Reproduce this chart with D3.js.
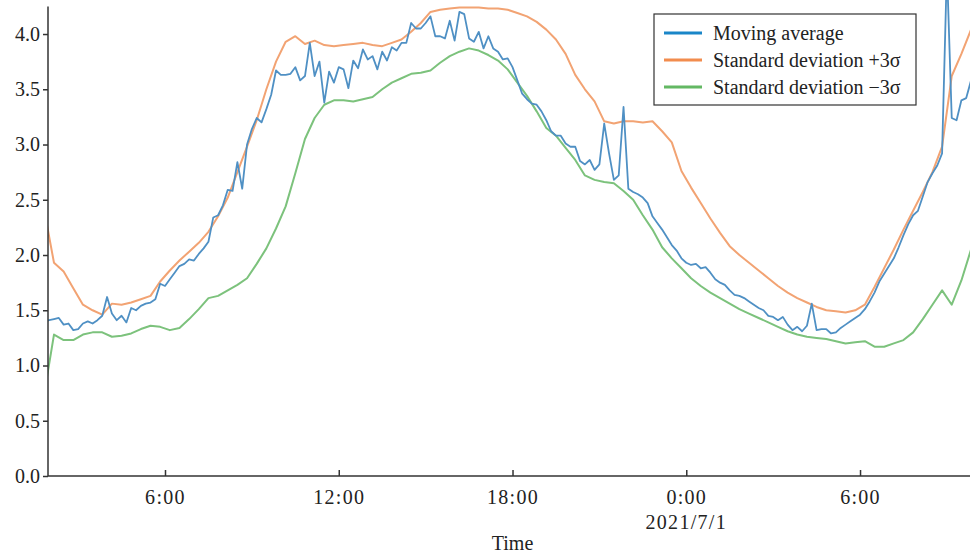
<!DOCTYPE html>
<html>
<head>
<meta charset="utf-8">
<script src="https://cdn.jsdelivr.net/npm/d3@7"></script>
<style>
  html, body { margin: 0; padding: 0; background: #fff; }
  svg { display: block; font-family: "Liberation Serif", "DejaVu Serif", serif; }
  .axis path, .axis line { stroke: #333; stroke-width: 1.5; }
  .axis text { fill: #222; font-size: 20px; font-family: "Liberation Serif", serif; }
  .xaxis text, .xlab { letter-spacing: 1.3px; }
</style>
</head>
<body>
<div id="chart"></div>
<script>
// moving average, one value every 10 minutes from 2021/6/30 1:50
const avgStart = new Date(2021, 5, 30, 1, 50);
const movingAvg = [
  1.40,1.41,1.42,1.43,1.37,1.38,1.32,1.33,1.38,1.40,
  1.38,1.41,1.45,1.62,1.47,1.41,1.45,1.39,1.52,1.50,
  1.54,1.56,1.57,1.60,1.74,1.72,1.78,1.84,1.90,1.92,
  1.96,1.95,2.01,2.06,2.12,2.34,2.36,2.45,2.59,2.58,
  2.84,2.60,3.00,3.14,3.24,3.20,3.32,3.45,3.67,3.63,
  3.63,3.64,3.70,3.58,3.62,3.92,3.62,3.75,3.38,3.66,
  3.56,3.70,3.68,3.51,3.76,3.69,3.86,3.77,3.80,3.68,
  3.84,3.76,3.88,3.85,3.92,3.92,4.10,4.05,4.05,4.10,
  4.16,3.98,3.98,3.96,4.12,3.94,4.20,4.18,3.96,3.93,
  4.02,3.87,3.98,3.87,3.84,3.77,3.78,3.70,3.58,3.46,
  3.41,3.37,3.36,3.30,3.22,3.12,3.08,3.08,3.01,2.98,
  2.98,2.85,2.82,2.86,2.77,2.82,3.19,2.92,2.68,2.72,
  3.34,2.60,2.57,2.55,2.52,2.47,2.35,2.29,2.23,2.16,
  2.09,2.04,1.97,1.93,1.91,1.92,1.88,1.89,1.84,1.78,
  1.75,1.73,1.68,1.64,1.63,1.61,1.58,1.55,1.52,1.50,
  1.45,1.44,1.41,1.44,1.37,1.32,1.35,1.31,1.36,1.56,
  1.32,1.33,1.33,1.29,1.30,1.34,1.37,1.40,1.43,1.46,
  1.51,1.58,1.66,1.76,1.83,1.90,1.97,2.07,2.18,2.28,
  2.36,2.40,2.53,2.66,2.74,2.81,2.92,4.60,3.24,3.22,
  3.40,3.42,3.58,3.65
];

// +3σ / -3σ bands, one value every 20 minutes from the same start
const bandStart = new Date(2021, 5, 30, 1, 50);
const upper3s = [
  2.40,1.93,1.85,1.70,1.55,1.50,1.46,1.56,1.55,1.57,
  1.60,1.63,1.76,1.86,1.95,2.03,2.11,2.21,2.35,2.52,
  2.75,2.98,3.22,3.50,3.75,3.93,3.98,3.91,3.94,3.90,
  3.89,3.90,3.91,3.92,3.90,3.89,3.92,3.95,4.02,4.10,
  4.20,4.22,4.23,4.24,4.24,4.24,4.23,4.23,4.22,4.19,
  4.16,4.11,4.04,3.95,3.82,3.63,3.50,3.39,3.21,3.19,
  3.21,3.21,3.20,3.21,3.12,3.02,2.76,2.61,2.47,2.33,
  2.20,2.08,2.00,1.93,1.86,1.79,1.72,1.66,1.61,1.57,
  1.53,1.50,1.49,1.48,1.50,1.55,1.71,1.88,2.05,2.23,
  2.40,2.57,2.75,2.98,3.62,3.82,4.04,4.20
];
const lower3s = [
  0.75,1.28,1.23,1.23,1.28,1.30,1.30,1.26,1.27,1.29,
  1.33,1.36,1.35,1.32,1.34,1.42,1.51,1.61,1.63,1.68,
  1.73,1.79,1.92,2.06,2.24,2.44,2.74,3.05,3.24,3.36,
  3.40,3.40,3.39,3.41,3.43,3.50,3.56,3.60,3.64,3.65,
  3.67,3.74,3.80,3.84,3.87,3.85,3.81,3.76,3.68,3.56,
  3.44,3.30,3.15,3.08,2.97,2.86,2.72,2.68,2.66,2.65,
  2.58,2.50,2.36,2.23,2.07,1.97,1.88,1.79,1.72,1.66,
  1.61,1.56,1.51,1.47,1.43,1.39,1.35,1.31,1.28,1.26,
  1.25,1.24,1.22,1.20,1.21,1.22,1.17,1.17,1.20,1.23,
  1.30,1.42,1.55,1.68,1.55,1.77,2.05,2.25
];

const yTicks = [0, 0.5, 1.0, 1.5, 2.0, 2.5, 3.0, 3.5, 4.0];
const xTicks = [
  new Date(2021, 5, 30, 6), new Date(2021, 5, 30, 12), new Date(2021, 5, 30, 18),
  new Date(2021, 6, 1, 0), new Date(2021, 6, 1, 6)
];
const seriesNames = ["Moving average", "Standard deviation +3σ", "Standard deviation −3σ"];
const lineColors = ["#4f90c4", "#f2a373", "#7cc27c"];
const legendColors = ["#1a86c8", "#f28c4e", "#63b863"];

const W = 970, H = 556;
const plotL = 48, plotR = 970, plotT = 6.4, plotB = 476;

const svg = d3.select("#chart").append("svg")
  .attr("width", W).attr("height", H);

const x = d3.scaleTime()
  .domain([new Date(2021, 5, 30, 1, 57, 36), new Date(2021, 6, 1, 9, 47, 50)])
  .range([plotL, plotR]);
const y = d3.scaleLinear().domain([0, 4.25]).range([plotB, plotT]);

svg.append("defs").append("clipPath").attr("id", "plot")
  .append("rect").attr("x", plotL).attr("y", 0)
  .attr("width", plotR - plotL).attr("height", plotB);

const avgData = movingAvg.map((v, i) => ({ t: d3.timeMinute.offset(avgStart, 10 * i), v }));
const upData = upper3s.map((v, i) => ({ t: d3.timeMinute.offset(bandStart, 20 * i), v }));
const loData = lower3s.map((v, i) => ({ t: d3.timeMinute.offset(bandStart, 20 * i), v }));

const line = d3.line().x(d => x(d.t)).y(d => y(d.v));

const g = svg.append("g").attr("clip-path", "url(#plot)");
[[loData, 2, 2], [upData, 1, 2], [avgData, 0, 1.8]].forEach(([data, k, w]) => {
  g.append("path").datum(data)
    .attr("fill", "none")
    .attr("stroke", lineColors[k])
    .attr("stroke-width", w)
    .attr("stroke-linejoin", "round")
    .attr("d", line);
});

// axes
svg.append("g").attr("class", "axis")
  .attr("transform", `translate(${plotL},0)`)
  .call(d3.axisLeft(y).tickValues(yTicks).tickFormat(d3.format(".1f")).tickSize(5).tickPadding(3))
  .call(a => a.select(".domain").attr("d", `M0,${plotT}V${plotB}`));

svg.append("g").attr("class", "axis xaxis")
  .attr("transform", `translate(0,${plotB})`)
  .call(d3.axisBottom(x).tickValues(xTicks).tickFormat(d3.timeFormat("%-H:%M")).tickSize(-6).tickPadding(14))
  .call(a => a.select(".domain").attr("d", `M${plotL},0H${plotR}`));

svg.append("text").attr("class", "xlab")
  .attr("x", x(xTicks[3])).attr("y", 529)
  .attr("text-anchor", "middle").attr("font-size", 20).attr("fill", "#222")
  .text("2021/7/1");

svg.append("text")
  .attr("x", x(xTicks[2])).attr("y", 550)
  .attr("text-anchor", "middle").attr("font-size", 20).attr("fill", "#222")
  .text("Time");

// legend
const lg = svg.append("g").attr("transform", "translate(654,14)");
lg.append("rect").attr("width", 262).attr("height", 91)
  .attr("fill", "#fff").attr("stroke", "#333").attr("stroke-width", 1.2);
seriesNames.forEach((name, k) => {
  const yy = 19 + k * 27;
  lg.append("line").attr("x1", 10).attr("x2", 48).attr("y1", yy).attr("y2", yy)
    .attr("stroke", legendColors[k]).attr("stroke-width", 3);
  lg.append("text").attr("x", 59).attr("y", yy + 6.5)
    .attr("font-size", 20).attr("fill", "#222").text(name);
});
</script>
</body>
</html>
